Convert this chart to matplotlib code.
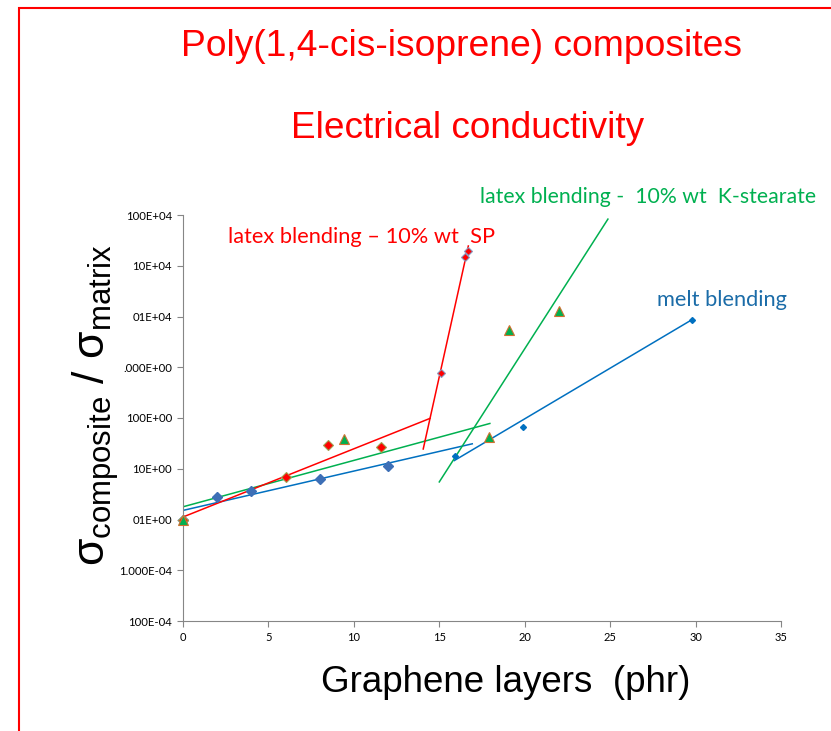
import matplotlib
matplotlib.use("Agg")
import matplotlib.pyplot as plt
import matplotlib.patches as patches
import numpy as np

plt.rcParams['font.family'] = ['Liberation Sans', 'DejaVu Sans']
plt.rcParams['mathtext.fontset'] = 'custom'
plt.rcParams['mathtext.rm'] = 'Liberation Sans'
plt.rcParams['mathtext.it'] = 'Liberation Sans'

# measured points (sigma composite / sigma matrix)
melt_x = [0, 2, 4, 8, 12]
melt_y = [1.0, 2.8, 3.7, 6.2, 11.5]
melt_x2 = [15.9, 19.9, 29.8]
melt_y2 = [17.8, 65, 8700]

sp_x = [0, 6, 8.5, 11.6]
sp_y = [1.0, 6.8, 29, 27]
sp_x2 = [15.1, 16.5, 16.7]
sp_y2 = [780, 1.5e5, 1.95e5]

ks_x = [0, 9.4, 17.9, 19.1, 22.0]
ks_y = [1.0, 39, 43, 5400, 12600]

# exponential trend lines (end points)
melt_fit1_x, melt_fit1_y = [0, 16.93], [1.51, 31]
melt_fit2_x, melt_fit2_y = [15.88, 29.8], [14.5, 8700]
sp_fit1_x, sp_fit1_y = [0, 14.45], [1.12, 98]
sp_fit2_x, sp_fit2_y = [14.06, 16.7], [24.5, 2.45e5]
ks_fit1_x, ks_fit1_y = [0, 17.96], [1.78, 78]
ks_fit2_x, ks_fit2_y = [15.0, 24.87], [5.5, 8.3e5]

x_ticks = [0, 5, 10, 15, 20, 25, 30, 35]
y_ticks = [1e-2, 1e-1, 1e0, 1e1, 1e2, 1e3, 1e4, 1e5, 1e6]
y_labels = ["100E-04", "1.000E-04", "01E+00", "10E+00", "100E+00",
            ".000E+00", "01E+04", "10E+04", "100E+04"]

RED = "#ff0000"
GREEN = "#00b050"
BLUE = "#0070c0"
DBLUE = "#3d6fb6"
TBLUE = "#1b6ca8"

fig = plt.figure(figsize=(8.31, 7.31), dpi=100)
fig.patch.set_facecolor("white")
fig.patches.append(patches.Rectangle((19 / 831, -0.1), 1.2, 1.1 - 8 / 731,
                                     transform=fig.transFigure, fill=False,
                                     edgecolor=RED, linewidth=1.5))

ax = fig.add_axes([183 / 831, 1 - 621 / 731, 598 / 831, 406 / 731])
ax.set_yscale("log")
ax.set_xlim(0, 35)
ax.set_ylim(1e-2, 1e6)

lw = 1.1
ax.plot(melt_fit1_x, melt_fit1_y, color=BLUE, lw=lw)
ax.plot(melt_fit2_x, melt_fit2_y, color=BLUE, lw=lw)
ax.plot(ks_fit1_x, ks_fit1_y, color=GREEN, lw=lw)
ax.plot(ks_fit2_x, ks_fit2_y, color=GREEN, lw=lw)
ax.plot(sp_fit1_x, sp_fit1_y, color=RED, lw=lw)
ax.plot(sp_fit2_x, sp_fit2_y, color=RED, lw=lw)

ax.plot(melt_x, melt_y, "D", color=DBLUE, ms=5.5, mec=DBLUE, clip_on=False, zorder=3)
ax.plot(melt_x2, melt_y2, "D", color=BLUE, ms=3, mec=BLUE, clip_on=False, zorder=3)
ax.plot(sp_x, sp_y, "D", color=RED, ms=5.5, mec="#a0a050", mew=0.8, clip_on=False, zorder=4)
ax.plot(sp_x2, sp_y2, "D", color=RED, ms=4, mec="#8a9ac0", mew=0.8, clip_on=False, zorder=4)
ax.plot(ks_x, ks_y, "^", color=GREEN, ms=7, mec="#d07030", mew=0.8, clip_on=False, zorder=5)

for s in ["top", "right"]:
    ax.spines[s].set_visible(False)
for s in ["left", "bottom"]:
    ax.spines[s].set_color("#868686")
ax.set_xticks(x_ticks)
ax.set_xticklabels([str(v) for v in x_ticks], fontsize=8, family="Lato")
ax.set_yticks(y_ticks)
ax.set_yticklabels(y_labels, fontsize=8.2, family="Lato")
ax.minorticks_off()
ax.tick_params(axis="both", color="#868686", length=4, pad=4)

fig.text(461 / 831, 1 - 47 / 731, "Poly(1,4-cis-isoprene) composites",
         color=RED, fontsize=26.8, ha="center", va="center")
fig.text(468 / 831, 1 - 128 / 731, "Electrical conductivity",
         color=RED, fontsize=26.6, ha="center", va="center")
fig.text(506 / 831, 1 - 683 / 731, "Graphene layers  (phr)",
         color="black", fontsize=26.5, ha="center", va="center")
fig.text(96 / 831, 1 - 405 / 731,
         r"$\sigma_{\mathrm{composite}}$ / $\sigma_{\mathrm{matrix}}$",
         color="black", fontsize=32, rotation=90, ha="center", va="center")

fig.text(228 / 831, 1 - 237 / 731, "latex blending \u2013 10% wt  SP",
         color=RED, fontsize=15.7, family="Lato", ha="left", va="center")
fig.text(480 / 831, 1 - 197 / 731, "latex blending -  10% wt  K-stearate",
         color=GREEN, fontsize=15.3, family="Lato", ha="left", va="center")
fig.text(657 / 831, 1 - 300 / 731, "melt blending",
         color=TBLUE, fontsize=15.7, family="Lato", ha="left", va="center")

fig.savefig("out.png", dpi=100)
